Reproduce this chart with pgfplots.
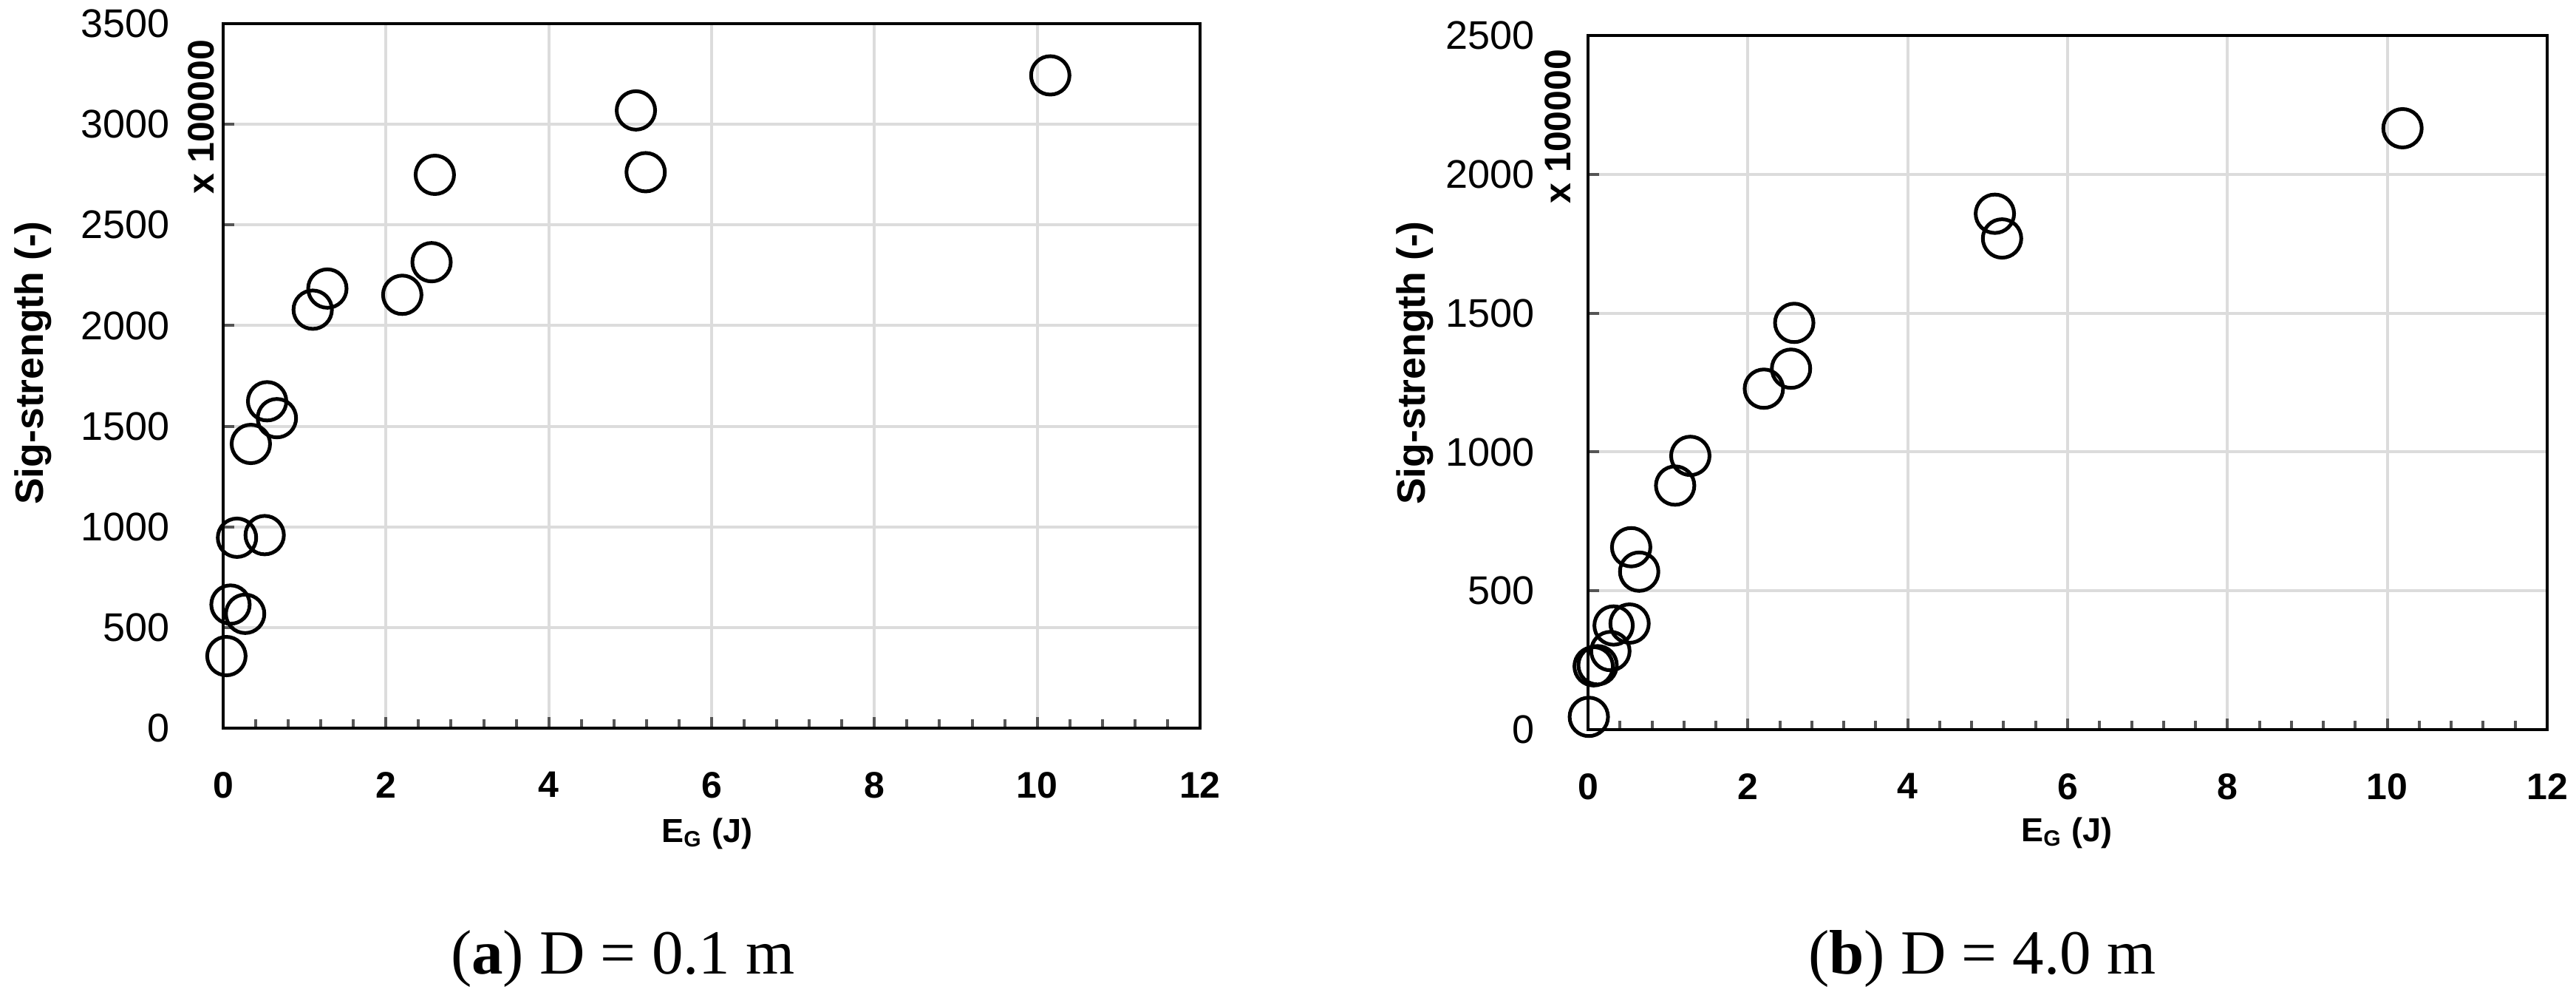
\documentclass[border=0pt]{standalone}
\usepackage{fontspec}
\setmainfont{Liberation Serif}
\setsansfont{Liberation Sans}
\usepackage{pgfplots}
\usepackage{pgfplotstable}
\pgfplotsset{compat=1.18}

\definecolor{gridgray}{HTML}{DCDCDC}
\definecolor{tickgray}{HTML}{555555}

% D = 0.1 m
\pgfplotstableread{
E S
0.04 358
0.09 614
0.27 568
0.17 946
0.51 959
0.34 1412
0.54 1624
0.66 1540
1.10 2079
1.28 2184
2.20 2153
2.56 2315
2.60 2749
5.07 3069
5.19 2762
10.16 3243
}\dataA

% D = 4.0 m
\pgfplotstableread{
E S
0.01 46
0.07 228
0.12 232
0.28 283
0.32 375
0.52 382
0.54 657
0.64 569
1.09 879
1.28 986
2.20 1228
2.54 1300
2.58 1465
5.09 1858
5.18 1769
10.19 2166
}\dataB

\pgfplotsset{
  sigplot/.style={
    scale only axis,
    anchor=south west,
    xmin=0, xmax=12, ymin=0,
    xtick={0,2,...,12},
    minor x tick num=4,
    tick align=inside,
    tick pos=left,
    major tick length=3pt,
    minor tick length=2.4pt,
    tick style={tickgray, line width=0.8pt},
    grid=major,
    major grid style={gridgray, line width=0.8pt},
    axis line style={black, line width=0.9pt},
    /pgf/number format/assume math mode=true,
    /pgf/number format/1000 sep={},
    xticklabel style={font=\sffamily\bfseries\fontsize{10}{12}\selectfont, yshift=-8.3pt},
    yticklabel style={font=\sffamily\fontsize{10.8}{12}\selectfont, xshift=-11pt},
  },
  circ/.style={only marks, mark=o, mark size=5.2pt, mark options={black, line width=1pt}},
}

\newcommand{\labfont}{\sffamily\bfseries\fontsize{10.7}{12}\selectfont}
\newcommand{\capfont}{\fontsize{17}{20}\selectfont}

\begin{document}
\begin{tikzpicture}
\useasboundingbox (0,0) rectangle (697.2pt,269pt);

\begin{axis}[sigplot, at={(60.4pt,72pt)}, width=264.4pt, height=190.6pt,
  ymax=3500, ytick={0,500,...,3500}]
  \addplot[circ] table[x=E, y=S] {\dataA};
\end{axis}

\begin{axis}[sigplot, at={(429.8pt,71.6pt)}, width=259.6pt, height=187.8pt,
  ymax=2500, ytick={0,500,...,2500}]
  \addplot[circ] table[x=E, y=S] {\dataB};
\end{axis}

% axis titles
\node[rotate=90, font=\labfont] at (9pt,170.8pt) {Sig-strength (-)};
\node[rotate=90, font=\sffamily\bfseries\fontsize{10}{12}\selectfont] at (54.4pt,237.4pt) {x 100000};
\node[font=\sffamily\bfseries\fontsize{9}{11}\selectfont] at (191.4pt,43.4pt) {E\textsubscript{G} (J)};

\node[rotate=90, font=\labfont] at (383pt,170.8pt) {Sig-strength (-)};
\node[rotate=90, font=\sffamily\bfseries\fontsize{10}{12}\selectfont] at (421.6pt,234.8pt) {x 100000};
\node[font=\sffamily\bfseries\fontsize{9}{11}\selectfont] at (559.4pt,43.6pt) {E\textsubscript{G} (J)};

% captions
\node[anchor=base west, font=\capfont, inner sep=0pt] at (121.8pt,5.6pt) {(\textbf{a}) D = 0.1 m};
\node[anchor=base west, font=\capfont, inner sep=0pt] at (489.2pt,5.6pt) {(\textbf{b}) D = 4.0 m};
\end{tikzpicture}
\end{document}
